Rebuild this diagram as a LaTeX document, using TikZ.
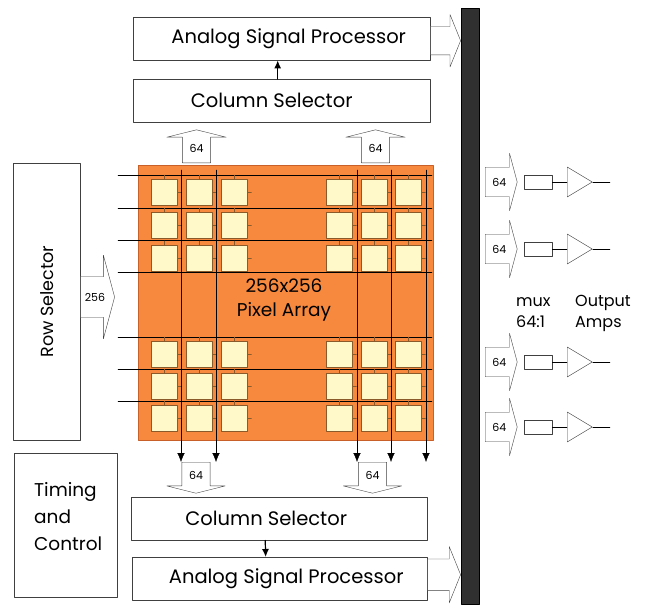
\documentclass[tikz,border=0pt]{standalone}
\usepackage{fontspec}
\setmainfont{Poppins}
\usetikzlibrary{shapes.arrows,shapes.geometric,arrows.meta}

\definecolor{camdam}{HTML}{F7893F}
\definecolor{viencam}{HTML}{C8602A}
\definecolor{vangnhat}{HTML}{FFF8C8}
\definecolor{vienpix}{HTML}{8A5A2B}
\definecolor{xamtoi}{HTML}{303030}

\tikzset{
  khoi/.style={draw=black!75, fill=white, inner sep=0pt, anchor=north west, font=\fontsize{19.5}{19.5}\selectfont},
  pix/.style={draw=vienpix, fill=vangnhat, minimum size=26pt, inner sep=0pt, anchor=north west},
  rong/.style={single arrow, draw=black!75, fill=white, inner sep=0pt, anchor=tail,
    single arrow head indent=0pt, single arrow tip angle=150, font=\fontsize{11}{11}\selectfont},
  nhan/.style={anchor=west, align=left, inner sep=0pt},
}

\begin{document}
\begin{tikzpicture}[x=1pt, y=-1pt, line join=round, line cap=round]
\useasboundingbox (0,0) rectangle (652,604);

% thanh bus ben phai
\node[fill=xamtoi, draw=black, minimum width=18pt, minimum height=596pt, inner sep=0pt, anchor=north west] (bus) at (461,8) {};

% cac khoi
\node[khoi, minimum width=297pt, minimum height=43pt] (asp1) at (133,17) {\hspace*{14pt}Analog Signal Processor};
\node[khoi, minimum width=297pt, minimum height=43pt] (cs1) at (133,79) {Column Selector\hspace*{20pt}};
\node[khoi, minimum width=67pt, minimum height=277pt] (rs) at (13,163) {};
\node[rotate=90, font=\fontsize{17.5}{17.5}\selectfont] (rstext) at (rs.center) {Row Selector};
\node[khoi, minimum width=103pt, minimum height=144pt] (tc) at (14,453) {};
\node[nhan, font=\fontsize{18.5}{27}\selectfont] (tctext) at (34,517) {Timing\\and\\Control};
\node[khoi, minimum width=296pt, minimum height=43pt] (cs2) at (131,497) {Column Selector\hspace*{26pt}};
\node[khoi, minimum width=295pt, minimum height=43pt] (asp2) at (132,557) {\hspace*{13pt}Analog Signal Processor};

\draw[line width=1.2pt, -{Latex[length=8pt,width=7pt]}] ([xshift=-4pt]cs1.north) -- ([xshift=-4pt]asp1.south);
\draw[line width=1.2pt, -{Latex[length=8pt,width=7pt]}] ([xshift=-14pt]cs2.south) -- ([xshift=-14pt]asp2.north);

% ma tran diem anh
\node[fill=camdam, draw=viencam, minimum width=295pt, minimum height=275pt, inner sep=0pt, anchor=north west] (arr) at (138,165) {};
\foreach \y in {175,208,240,272,337,369,401}
  \draw (118,\y) -- (432,\y);
\foreach \x in {151,186,221,326,361,395}
  \foreach \y in {179,212,245,341,373,405} {
    \node[pix] (p\x-\y) at (\x,\y) {};
    \draw[vienpix] (p\x-\y.north) -- ++(0,-4);
    \draw[vienpix] (p\x-\y.east) -- ++(4,0);
  }
\foreach \x in {181,216,357,391,426}
  \draw[-{Latex[length=9pt,width=7.5pt]}] (\x,170) -- (\x,462);
\node[align=center, font=\fontsize{18.5}{24}\selectfont] (arrtext) at (284,300) {256x256\\Pixel Array};

% cac mui ten rong
\node[rong, shape border rotate=90, minimum height=33pt, single arrow head extend=15.5pt, inner xsep=7pt, single arrow tip angle=152] (up1) at (196.5,163) {64};
\node[rong, shape border rotate=90, minimum height=33pt, single arrow head extend=15.5pt, inner xsep=7pt, single arrow tip angle=152] (up2) at (375.5,163) {64};
\node[rong, shape border rotate=270, minimum height=31pt, single arrow head extend=15pt, inner xsep=7pt, single arrow tip angle=152] (dn1) at (196,462) {64};
\node[rong, shape border rotate=270, minimum height=31pt, single arrow head extend=15pt, inner xsep=7pt, single arrow tip angle=152] (dn2) at (372.5,462) {64};
\node[rong, minimum height=34pt, single arrow head extend=21.5pt, inner ysep=16pt, inner xsep=2pt] (rsout) at (rs.east |- 0,297) {256};
\node[rong, minimum height=30pt, single arrow head extend=12pt, inner ysep=14pt, single arrow tip angle=136] (aspout1) at ([yshift=-2pt]asp1.east) {};
\node[rong, minimum height=33pt, single arrow head extend=12.5pt, inner ysep=15.5pt, single arrow tip angle=136] (aspout2) at ([yshift=4pt]asp2.east) {};

% bo chon kenh va khuech dai ra
\foreach \i/\y in {1/182,2/249,3/362,4/427} {
  \node[rong, minimum height=32pt, single arrow head extend=14pt, inner ysep=10.5pt, inner xsep=3pt] (in\i) at (485,\y) {64};
  \node[draw=black!75, minimum width=28pt, minimum height=14pt, inner sep=0pt] (mux\i) at (538,\y) {};
  \node[draw=black!75, isosceles triangle, isosceles triangle stretches, minimum width=30pt, minimum height=25pt, inner sep=0pt, anchor=lower side] (amp\i) at (567,\y) {};
  \coordinate (ra\i) at (610,\y);
  \draw (mux\i.east) -- (amp\i.lower side);
  \draw (amp\i.apex) -- (ra\i);
}
\node[nhan, font=\fontsize{16}{21}\selectfont] (muxtext) at (516,313) {mux\\64:1};
\node[nhan, font=\fontsize{16}{21}\selectfont] (amptext) at (575,313) {Output\\Amps};
\end{tikzpicture}
\end{document}
